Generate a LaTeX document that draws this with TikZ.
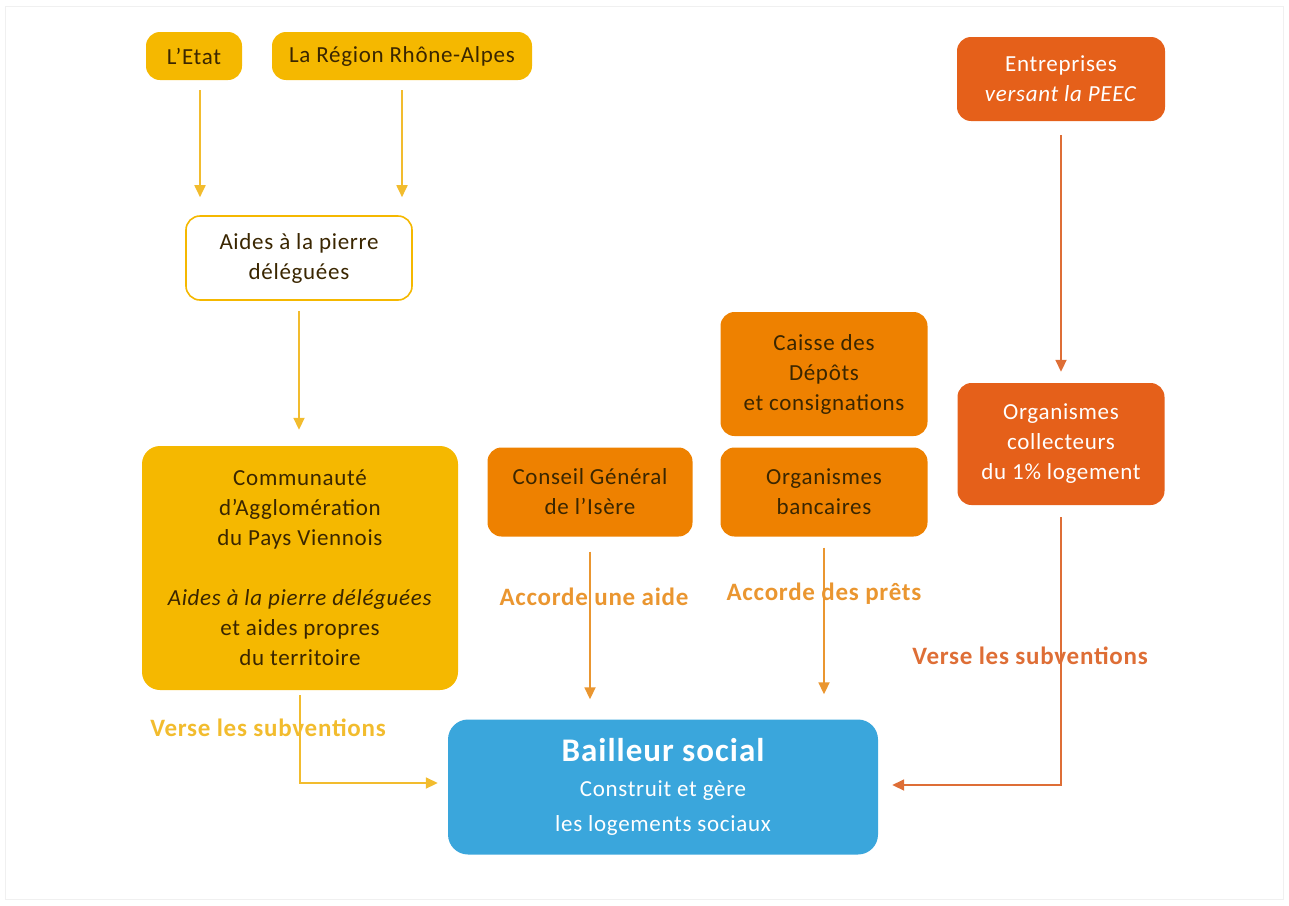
\documentclass[tikz,border=0pt]{standalone}
\usepackage{fontspec}
\setmainfont{Carlito}[LetterSpace=3]
\usetikzlibrary{arrows.meta}
\definecolor{ylw}{HTML}{F5B800}
\definecolor{ylwline}{HTML}{F2BC2E}
\definecolor{org}{HTML}{EE8100}
\definecolor{orgline}{HTML}{EA9630}
\definecolor{rdo}{HTML}{E5601A}
\definecolor{rdoline}{HTML}{DE6E36}
\definecolor{blu}{HTML}{3AA6DC}
\definecolor{txtdark}{HTML}{3A2600}
\definecolor{frame}{HTML}{F0F0F0}
\tikzset{
  box/.style={rounded corners=14pt, align=center, inner sep=0pt,
    font=\fontsize{23}{30}\selectfont},
  ybox/.style={box, fill=ylw, text=txtdark},
  wbox/.style={box, fill=white, draw=ylw, line width=1.6pt, text=txtdark},
  obox/.style={box, fill=org, text=txtdark},
  rbox/.style={box, fill=rdo, text=white},
  bbox/.style={box, rounded corners=20pt, fill=blu, text=white, font=\fontsize{23}{35}\selectfont},
  lbl/.style={font=\fontsize{25}{28}\selectfont\bfseries},
  conn/.style={line width=1.8pt, -{Triangle[width=11pt,length=12pt]}},
  yconn/.style={conn, draw=ylwline},
  oconn/.style={conn, draw=orgline},
  rconn/.style={conn, draw=rdoline},
}
\begin{document}
\begin{tikzpicture}[x=1pt,y=-1pt]
\useasboundingbox (0,0) rectangle (1289,905);
\draw[frame, line width=1pt] (5,6) rectangle (1283,899);

% nodes
\node[ybox, minimum width=96pt, minimum height=48pt] (etat) at (194,56) {L'Etat};
\node[ybox, minimum width=260pt, minimum height=48pt] (region) at (402,56) {La Région Rhône-Alpes};
\node[wbox, minimum width=226pt, minimum height=84pt] (aides) at (299,258) {Aides à la pierre\\déléguées};
\node[ybox, rounded corners=18pt, minimum width=316pt, minimum height=244pt] (comm) at (300,568)
  {Communauté\\d'Agglomération\\du Pays Viennois\\[30pt]\textit{Aides à la pierre déléguées}\\et aides propres\\du territoire};
\node[obox, minimum width=205pt, minimum height=89pt] (cg) at (590,492) {Conseil Général\\de l'Isère};
\node[obox, minimum width=207pt, minimum height=124pt] (cdc) at (824,374) {Caisse des\\Dépôts\\et consignations};
\node[obox, minimum width=207pt, minimum height=89pt] (banc) at (824,492) {Organismes\\bancaires};
\node[rbox, minimum width=208pt, minimum height=84pt] (entr) at (1061,79) {Entreprises\\\textit{versant la PEEC}};
\node[rbox, minimum width=207pt, minimum height=122pt] (coll) at (1061,444) {Organismes\\collecteurs\\du 1\% logement};
\node[bbox, minimum width=430pt, minimum height=135pt] (bail) at (663,787)
  {{\fontsize{33}{35}\selectfont\bfseries Bailleur social}\\Construit et gère\\les logements sociaux};

% connectors
\draw[yconn, shorten <=10pt, shorten >=18pt] ([xshift=6pt]etat.south) -- ([xshift=6pt]etat.south |- aides.north);
\draw[yconn, shorten <=10pt, shorten >=18pt] (region.south) -- (region.south |- aides.north);
\draw[yconn, shorten <=10pt, shorten >=16pt] (aides.south) -- (aides.south |- comm.north);
\draw[yconn, shorten <=5pt, shorten >=10pt] (comm.south) |- ([yshift=4pt]bail.west);
\draw[oconn, shorten <=15pt, shorten >=20pt] (cg.south) -- (cg.south |- bail.north);
\draw[oconn, shorten <=11pt, shorten >=25pt] (banc.south) -- (banc.south |- bail.north);
\draw[rconn, shorten <=14pt, shorten >=11pt] (entr.south) -- (coll.north);
\draw[rconn, shorten <=12pt, shorten >=14pt] (coll.south) |- ([yshift=2pt]bail.east);

% labels
\node[lbl, text=ylwline] (l1) at (268,728) {Verse les subventions};
\node[lbl, text=orgline] (l2) at (594,597) {Accorde une aide};
\node[lbl, text=orgline] (l3) at (824,594) {Accorde des prêts};
\node[lbl, text=rdoline] (l4) at (1030,656) {Verse les subventions};
\end{tikzpicture}
\end{document}
